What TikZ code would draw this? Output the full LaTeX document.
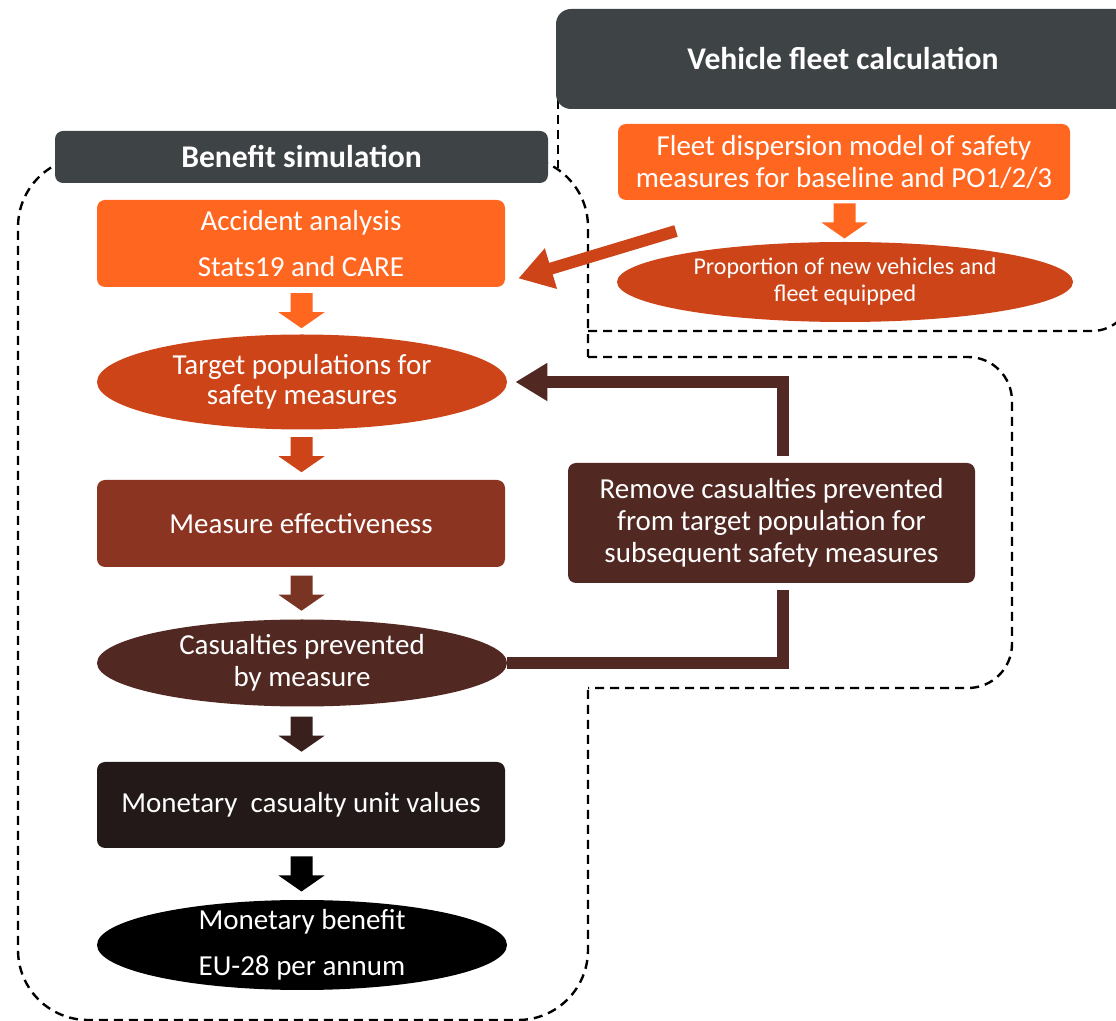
\documentclass[tikz,border=0pt]{standalone}
\usepackage{fontspec}
\setmainfont{Carlito}
\usetikzlibrary{calc}
\usetikzlibrary{arrows.meta}
\usetikzlibrary{shapes.geometric}

\definecolor{hdgray}{RGB}{62,68,70}
\definecolor{orng}{RGB}{255,102,32}
\definecolor{rust}{RGB}{204,68,24}
\definecolor{brick}{RGB}{140,52,34}
\definecolor{brickdk}{RGB}{122,52,36}
\definecolor{cmaroon}{RGB}{82,40,34}
\definecolor{cmaroondk}{RGB}{58,32,28}
\definecolor{cdark}{RGB}{35,25,25}

\begin{document}
\begin{tikzpicture}[x=0.5pt,y=-0.5pt,
 box/.style={rectangle, rounded corners=4pt, text=white, align=center, inner sep=0pt, font=\fontsize{14.5}{16}\selectfont},
 oval/.style={ellipse, text=white, align=center, inner sep=-6pt, font=\fontsize{14.5}{16}\selectfont},
 header/.style={rectangle, fill=hdgray, text=white, font=\fontsize{15.8}{18}\selectfont\bfseries},
 region/.style={black, line width=1.2pt, dash pattern=on 4.5pt off 3pt},
 feedback/.style={cmaroon, line width=6pt}]
\useasboundingbox (0,0) rectangle (1116,1021);
\clip (0,0) rectangle (1116,1021);

\draw[region, rounded corners=35pt] (588,690) -- (588,1020) -- (18,1020) -- (18,157) -- (150,157);
\draw[region, rounded corners=35pt] (450,157) -- (588,157) -- (588,357);
\draw[region, rounded corners=22pt] (588,357) -- (1012,357) -- (1012,688) -- (588,688);
\draw[region] (558,100) -- (558,168);
\draw[region, rounded corners=20pt] (588,331) -- (1132,331) -- (1132,250);

\node[header, rounded corners=7.5pt, minimum width=287pt, minimum height=50pt] (fleethd) at (843,59) {Vehicle fleet calculation};
\node[header, rounded corners=4pt, minimum width=246.5pt, minimum height=26pt] (benefithd) at (301.5,157) {Benefit simulation};

\node[box, fill=orng, minimum width=226pt, minimum height=38pt] (fleet) at (844,162) {Fleet dispersion model of safety\\measures for baseline and PO1/2/3};
\node[oval, fill=rust, minimum width=228pt, minimum height=40pt, font=\fontsize{12}{13.5}\selectfont] (prop) at (845,282) {Proportion of new vehicles and\\fleet equipped};

\node[box, fill=orng, minimum width=204pt, minimum height=43.5pt] (acc) at (301,243.5) {Accident analysis\\[7pt]Stats19 and CARE};
\node[oval, fill=rust, minimum width=205pt, minimum height=47.5pt, font=\fontsize{14.5}{15}\selectfont] (target) at (302,382) {Target populations for\\safety measures};
\node[box, fill=brick, minimum width=204pt, minimum height=43.5pt] (meff) at (301,523.5) {Measure effectiveness};
\node[oval, fill=cmaroon, minimum width=205pt, minimum height=43.5pt] (cas) at (302,663) {Casualties prevented\\by measure};
\node[box, fill=cdark, minimum width=204pt, minimum height=43pt] (money) at (301,805) {Monetary\ \ casualty unit values};
\node[oval, fill=black, minimum width=205pt, minimum height=45pt] (benefit) at (302,945) {Monetary benefit\\[7pt]EU-28 per annum};
\node[box, fill=cmaroon, minimum width=203.5pt, minimum height=60pt] (remove) at (771.5,523) {Remove casualties prevented\\from target population for\\subsequent safety measures};

\foreach \from/\to/\col in {fleet/prop/orng, acc/target/orng, target/meff/rust, meff/cas/brickdk, cas/money/cmaroondk, money/benefit/black} {
 \coordinate (mid) at ($(\from.south)!0.5!(\to.north)$);
 \fill[\col] ($(mid)+(-11,-17.5)$) -- ++(22,0) -- ++(0,19) -- ++(12,0) -- ++(-23,16) -- ++(-23,-16) -- ++(12,0) -- cycle;
}

\draw[feedback] (cas.east) -| ([xshift=5.5pt,yshift=-3.5pt]remove.south);
\draw[feedback, -{Triangle[width=18pt,length=16pt]}, shorten >=4pt] ([xshift=5.5pt,yshift=3.5pt]remove.north) |- (target.east);

\coordinate (fleetout) at (676,231);
\draw[rust, line width=6pt, -{Triangle[width=20pt,length=17pt]}] (fleetout) -- ([xshift=6.5pt,yshift=4.5pt]acc.south east);
\end{tikzpicture}
\end{document}
